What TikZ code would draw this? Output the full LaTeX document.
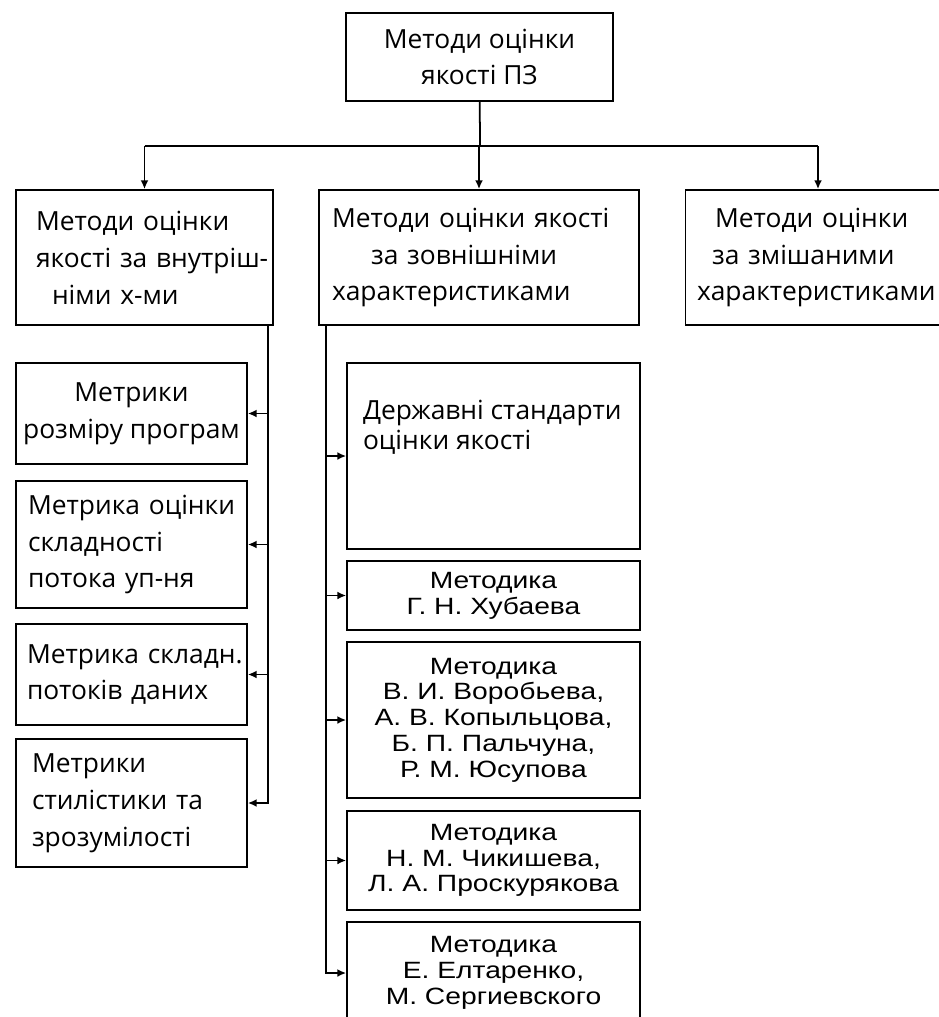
\documentclass[tikz,border=0pt]{standalone}
\usepackage{fontspec}
\setmainfont{Open Sans}
\newfontfamily\metfont[FakeStretch=1.2]{Liberation Sans}
\usetikzlibrary{arrows.meta}
\tikzset{
  box/.style={draw, line width=1pt, inner sep=0pt, font=\fontsize{15}{21}\selectfont},
  lbox/.style={box, align=left},
  mbox/.style={box, align=center, font=\metfont\fontsize{13.4}{14.7}\selectfont},
  arr/.style={line width=1pt, -{Latex[length=5pt,width=4.5pt]}}
}
\begin{document}
\begin{tikzpicture}[x=0.02cm,y=-0.02cm]
\path[fill=white] (0,0) rectangle (938,1017);
\useasboundingbox (0,0) rectangle (938,1017);
% верхній рівень
\node[box, align=center, minimum width=5.34cm, minimum height=1.76cm] (top) at (479.5,57) {Методи оцінки\\якості ПЗ};
\node[lbox, text width=4.34cm, minimum width=5.14cm, minimum height=2.7cm] (inner) at (144.5,257.5)
  {\mbox{Методи оцінки}\\\mbox{якості за внутріш-}\\\mbox{\hspace{0.32cm}німи х-ми}};
\node[lbox, text width=5.88cm, minimum width=6.4cm, minimum height=2.7cm] (outer) at (479,257.5)
  {\mbox{Методи оцінки якості}\\\mbox{\hspace{0.78cm}за зовнішніми}\\\mbox{характеристиками}};
\node[lbox, text width=4.84cm, minimum width=5.3cm, minimum height=2.7cm] (mixed) at (818,257.5)
  {\mbox{\hspace{0.36cm}Методи оцінки}\\\mbox{\hspace{0.3cm}за змішаними}\\\mbox{характеристиками}};
\coordinate (split) at (480,146);
\draw[line width=1pt] (top) -- (split);
\draw[line width=1pt] (split -| inner.north) -- (split -| mixed.north);
\foreach \n in {inner,outer,mixed}
  \draw[arr] (split -| \n.north) -- (\n.north);
% метрики (внутрішні)
\node[box, align=center, minimum width=4.62cm, minimum height=2.02cm] (ma) at (131.5,413.5) {Метрики\\розміру програм};
\node[lbox, text width=4.14cm, minimum width=4.62cm, minimum height=2.54cm] (mb) at (131.5,544.5)
  {\mbox{Метрика оцінки}\\\mbox{складності}\\\mbox{потока уп-ня}};
\node[lbox, text width=4.18cm, minimum width=4.62cm, minimum height=2.02cm] (mc) at (131.5,674.5)
  {\mbox{Метрика складн.}\\\mbox{потоків даних}};
\node[lbox, text width=3.98cm, minimum width=4.62cm, minimum height=2.56cm] (md) at (131.5,803)
  {\mbox{Метрики}\\\mbox{стилістики та}\\\mbox{зрозумілості}};
\coordinate (lt) at (268,325);
\draw[arr] (lt) |- (md.east);
\foreach \n in {ma,mb,mc}
  \draw[arr] (\n.east -| lt) -- (\n.east);
% методики (зовнішні)
\node[box, minimum width=5.86cm, minimum height=3.72cm] (dst) at (493.5,456)
  {\parbox[c][2.24cm][t]{5.22cm}{\fontsize{15}{17}\selectfont Державні стандарти\\оцінки якості}};
\node[mbox, minimum width=5.86cm, minimum height=1.38cm] (khub) at (493.5,595.5)
  {Методика\\Г. Н. Хубаева};
\node[mbox, minimum width=5.86cm, minimum height=3.12cm] (vor) at (493.5,720)
  {Методика\\В. И. Воробьева,\\А. В. Копыльцова,\\Б. П. Пальчуна,\\Р. М. Юсупова};
\node[mbox, minimum width=5.86cm, minimum height=1.98cm] (chyk) at (493.5,860.5)
  {Методика\\Н. М. Чикишева,\\Л. А. Проскурякова};
\node[mbox, minimum width=5.86cm, minimum height=2.04cm] (elt) at (493.5,973)
  {Методика\\Е. Елтаренко,\\М. Сергиевского};
\coordinate (rt) at (326,325);
\draw[arr] (rt) |- (elt.west);
\foreach \n in {dst,khub,vor,chyk}
  \draw[arr] (\n.west -| rt) -- (\n.west);
\end{tikzpicture}
\end{document}
